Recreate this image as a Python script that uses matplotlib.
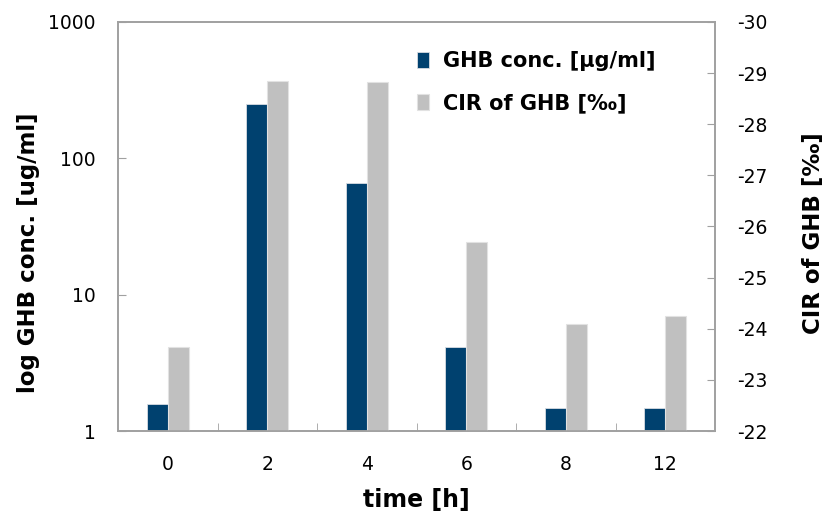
import matplotlib.pyplot as plt
import matplotlib.ticker as mticker
import numpy as np

plt.rcParams['axes.unicode_minus'] = False

# data
time_labels = ['0', '2', '4', '6', '8', '12']
ghb_conc = [1.58, 250, 66, 4.15, 1.48, 1.48]           # ug/ml, log axis
cir_ghb = [-23.65, -28.85, -28.83, -25.70, -24.10, -24.25]  # permil, right axis

blue = '#00416F'
grey = '#C0C0C0'
frame = '#A0A0A0'

fig = plt.figure(figsize=(8.27, 5.15), dpi=100)
ax = fig.add_axes([0.1427, 0.1631, 0.7219, 0.7942])
ax2 = ax.twinx()

x = np.arange(len(time_labels))
w = 0.21

b1 = ax.bar(x - w / 2, ghb_conc, w, color=blue, edgecolor='#d8dde3', linewidth=0.6)
ax.set_yscale('log')
ax.set_ylim(1, 1000)
ax.set_xlim(-0.5, len(time_labels) - 0.5)
ax.yaxis.set_major_locator(mticker.FixedLocator([1, 10, 100, 1000]))
ax.yaxis.set_major_formatter(mticker.FuncFormatter(lambda v, p: f'{v:g}'))
ax.yaxis.set_minor_locator(mticker.NullLocator())

base = -22
cir_h = [v - base for v in cir_ghb]
b2 = ax2.bar(x + w / 2, cir_h, w, bottom=base, color=grey, edgecolor='#e2e2e2', linewidth=0.8)
ax2.set_ylim(-22, -30)
ax2.set_yticks(np.arange(-30, -21, 1))

# category ticks between groups
ax.set_xticks(x)
ax.set_xticklabels(time_labels)
ax.set_xticks(np.arange(0.5, len(time_labels) - 1, 1), minor=True)
ax.tick_params(axis='x', which='major', length=0, pad=17, labelsize=13.5)
ax.tick_params(axis='x', which='minor', direction='in', length=6, color=frame)
ax.tick_params(axis='y', direction='in', length=6, color=frame, labelsize=13.5, pad=16)
ax2.tick_params(axis='y', direction='in', length=6, color=frame, labelsize=13.5, pad=16)

for a in (ax, ax2):
    for s in a.spines.values():
        s.set_color(frame)
        s.set_linewidth(1.2)

ax.set_xlabel('time [h]', fontsize=17, fontweight='bold', labelpad=10)
ax.set_ylabel('log GHB conc. [ug/ml]', fontsize=16.5, fontweight='bold')
ax.yaxis.set_label_coords(-0.13, 0.435)
ax2.set_ylabel('CIR of GHB [‰]', fontsize=16.5, fontweight='bold')
ax2.yaxis.set_label_coords(1.146, 0.484)

ax2.legend([b1, b2], ['GHB conc. [µg/ml]', 'CIR of GHB [‰]'], loc='upper left',
           bbox_to_anchor=(0.47, 0.975), frameon=False, handlelength=0.55, handleheight=0.8,
           handletextpad=0.7, labelspacing=1.05, prop={'size': 15, 'weight': 'bold'})

fig.savefig('out.png', dpi=100)
